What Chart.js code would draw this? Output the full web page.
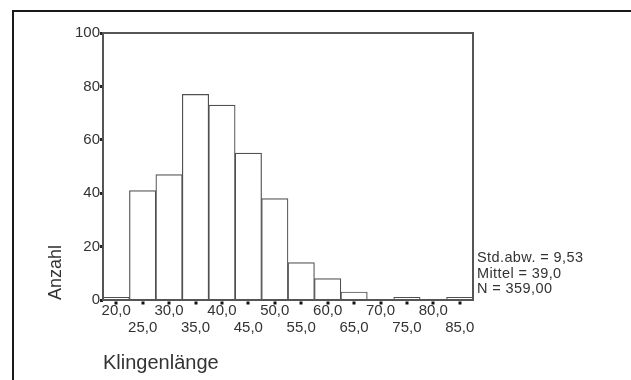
<!DOCTYPE html>
<html>
<head>
<meta charset="utf-8">
<script src="https://cdn.jsdelivr.net/npm/chart.js@4.4.1/dist/chart.umd.min.js"></script>
<style>
  html, body { margin: 0; padding: 0; background: #fff; }
  #wrap { position: relative; width: 631px; height: 380px; overflow: hidden; }
  #frame {
    position: absolute; left: 12px; top: 10px; right: -5px; bottom: -5px;
    border-left: 2px solid #1a1a1a; border-top: 2px solid #1a1a1a;
  }
  #stats {
    position: absolute; left: 477px; top: 250px;
    font: 14.5px 'Liberation Sans', Arial, sans-serif; letter-spacing: 0.4px;
    line-height: 15.5px; color: #333; white-space: nowrap;
  }
</style>
</head>
<body>
<div id="wrap">
  <div id="frame"></div>
  <canvas id="chart" width="631" height="380"></canvas>
  <div id="stats">Std.abw. = 9,53<br>Mittel = 39,0<br>N = 359,00</div>
</div>
<script>
/* global Chart */

// Klingenlänge histogram (bin centres, width 5)
const binLabels = ['20,0', '25,0', '30,0', '35,0', '40,0', '45,0', '50,0',
                   '55,0', '60,0', '65,0', '70,0', '75,0', '80,0', '85,0'];
const counts = [1, 41, 47, 77, 73, 55, 38, 14, 8, 3, 0, 1, 0, 1];
const yTicks = [0, 20, 40, 60, 80, 100];

const FONT = "'Liberation Sans', Arial, sans-serif";
Chart.defaults.font.family = FONT;
Chart.defaults.color = '#333';

// box round the plot area + small dots under the bin centres
const plotFrame = {
  id: 'plotFrame',
  afterDatasetsDraw(chart) {
    const { ctx, chartArea: a } = chart;
    ctx.save();
    ctx.strokeStyle = '#555';
    ctx.lineWidth = 2;
    ctx.strokeRect(a.left, a.top, a.right - a.left, a.bottom - a.top);
    ctx.restore();
  },
  afterDraw(chart) {
    const { ctx, chartArea: a } = chart;
    const xs = chart.scales.x;
    ctx.save();
    ctx.fillStyle = '#111';
    xs.ticks.forEach((t, i) => {
      const px = xs.getPixelForTick(i);
      ctx.fillRect(Math.round(px) - 1.5, a.bottom + 1.5, 3, 3);
    });
    ctx.restore();
  }
};

new Chart(document.getElementById('chart'), {
  type: 'bar',
  data: {
    labels: binLabels,
    datasets: [{
      data: counts,
      backgroundColor: '#fff',
      borderColor: '#505050',
      borderWidth: 1.2,
      barPercentage: 1,
      categoryPercentage: 1,
    }],
  },
  options: {
    responsive: false,
    animation: false,
    layout: { padding: { left: 0, top: 33, right: 158, bottom: 0 } },
    plugins: { legend: { display: false }, tooltip: { enabled: false } },
    scales: {
      x: {
        grid: { display: false, drawTicks: false },
        border: { display: false },
        ticks: {
          autoSkip: false,
          maxRotation: 0,
          padding: 2,
          font: { size: 15, lineHeight: '17px' },
          color: '#333',
          callback: (v, i) => (i % 2 === 0 ? [binLabels[i], ''] : ['', binLabels[i]]),
        },
        title: {
          display: true,
          text: 'Klingenlänge',
          align: 'start',
          font: { size: 20 },
          color: '#333',
          padding: { top: 0, bottom: 5 },
        },
        afterFit(scale) { scale.height = 80; },
      },
      y: {
        min: 0,
        max: 100,
        afterBuildTicks(scale) { scale.ticks = yTicks.map(v => ({ value: v })); },
        grid: { drawOnChartArea: false, tickLength: 3, tickWidth: 3, tickColor: '#222' },
        border: { display: false },
        ticks: { padding: 0, font: { size: 15 }, color: '#333' },
        title: {
          display: true,
          text: 'Anzahl',
          align: 'start',
          font: { size: 18 },
          color: '#333',
          padding: { top: 45, bottom: 0 },
        },
        afterFit(scale) { scale.width = 103; },
      },
    },
  },
  plugins: [plotFrame],
});
</script>
</body>
</html>
